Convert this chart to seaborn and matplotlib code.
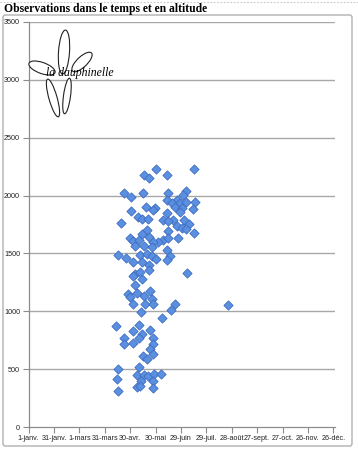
import matplotlib
matplotlib.use("Agg")
import matplotlib.pyplot as plt
import seaborn as sns
import pandas as pd
from matplotlib.patches import Ellipse, FancyBboxPatch
from matplotlib.lines import Line2D

# Day of year (0 = 1 janv.) and altitude (m) of each observation
days = [150, 195, 136, 142, 163, 113, 121, 135, 165, 186, 182, 163, 175, 197, 169,
        179, 186, 173, 181, 194, 139, 149, 147, 121, 163, 179, 129, 134, 141, 159,
        171, 165, 184, 190, 109, 175, 181, 186, 165, 195, 140, 134, 120, 142, 124,
        131, 159, 165, 177, 153, 147, 126, 136, 146, 163, 106, 115, 124, 132, 140,
        146, 151, 167, 163, 134, 142, 126, 132, 142, 187, 124, 134, 126, 118, 120,
        128, 143, 136, 146, 123, 138, 147, 173, 168, 236, 133, 158, 103, 131, 123,
        134, 144, 113, 147, 130, 123, 113, 147, 143, 147, 135, 140, 106, 131, 128,
        136, 141, 148, 156, 105, 133, 147, 128, 132, 147, 106]
altitudes = [2230, 2230, 2178, 2152, 2178, 2020, 1985, 2020, 2020, 2043, 2008, 1965, 1965, 1948, 1933,
             1933, 1948, 1905, 1894, 1885, 1905, 1890, 1877, 1865, 1847, 1856, 1819, 1799, 1799, 1790,
             1790, 1778, 1790, 1756, 1761, 1733, 1721, 1713, 1698, 1675, 1704, 1670, 1635, 1640, 1606,
             1612, 1618, 1635, 1635, 1597, 1597, 1560, 1560, 1554, 1532, 1483, 1459, 1425, 1483, 1497,
             1474, 1454, 1474, 1446, 1425, 1396, 1325, 1339, 1353, 1332, 1302, 1282, 1224, 1146, 1123,
             1158, 1175, 1129, 1109, 1060, 1066, 1060, 1066, 1015, 1058, 994, 942, 873, 885, 828,
             808, 836, 767, 773, 771, 728, 721, 721, 672, 635, 615, 584, 498, 517, 448,
             448, 444, 455, 459, 416, 401, 398, 347, 352, 340, 309]

tick_days = [0, 30, 60, 90, 120, 150, 180, 210, 240, 270, 300, 330, 360]
tick_labels = ["1-janv.", "31-janv.", "1-mars", "31-mars", "30-avr.", "30-mai", "29-juin",
               "29-juil.", "28-août", "27-sept.", "27-oct.", "26-nov.", "26-déc."]
y_ticks = [0, 500, 1000, 1500, 2000, 2500, 3000, 3500]

title = "Observations dans le temps et en altitude"
logo_text = "la dauphinelle"

df = pd.DataFrame({"jour": days, "altitude": altitudes})

sns.set_theme(style="white")
plt.rcParams["font.family"] = ["Liberation Sans", "DejaVu Sans"]

W, H = 358, 449
fig = plt.figure(figsize=(W / 100, H / 100), dpi=100)
fig.patch.set_facecolor("white")

# outer chart frame
frame = FancyBboxPatch((3 / W, 3 / H), 349 / W, 431 / H,
                       boxstyle="round,pad=0,rounding_size=0.006",
                       transform=fig.transFigure, facecolor="white",
                       edgecolor="#b0b0b0", linewidth=1.0, zorder=-10)
fig.patches.append(frame)
# dotted top line
fig.add_artist(Line2D([0.0, 1.0], [1 - 1.5 / H, 1 - 1.5 / H], transform=fig.transFigure,
                      color="#c8c8c8", linewidth=0.8, linestyle=(0, (1.5, 1.5)), zorder=-5))

ax = fig.add_axes([28.5 / W, 1 - 427 / H, (335 - 28.5) / W, (427 - 22) / H])
ax.set_facecolor("none")
ax.set_zorder(1)

sns.scatterplot(data=df, x="jour", y="altitude", marker="D", s=22,
                color="#5b8fe0", edgecolor="#3d6cc2", linewidth=0.6, ax=ax,
                zorder=3, legend=False)

ax.set_xlim(0, 362)
ax.set_ylim(0, 3500)
ax.set_xticks(tick_days)
ax.set_xticklabels(tick_labels, fontsize=5.2, color="#222222")
ax.set_yticks(y_ticks)
ax.set_yticklabels([str(v) for v in y_ticks], fontsize=5.2, color="#222222")
ax.set_xlabel("")
ax.set_ylabel("")

for v in y_ticks[1:]:
    ax.axhline(v, color="#a8a8a8", linewidth=1.0, zorder=1)

for side in ["top", "right"]:
    ax.spines[side].set_visible(False)
for side in ["left", "bottom"]:
    ax.spines[side].set_color("#8c8c8c")
    ax.spines[side].set_linewidth(0.9)
ax.tick_params(axis="both", which="both", direction="out", length=4, width=0.8,
               color="#8c8c8c", pad=2)
ax.tick_params(axis="x", bottom=True)
ax.tick_params(axis="y", left=True)
ax.grid(False)

# title
fig.text(4 / W, 1 - 12 / H, title, fontsize=8.4, fontweight="bold",
         family=["Liberation Serif", "DejaVu Serif"], color="black", va="baseline")

# logo: a simple flower drawn with petals, and its name
petals = [  # (cx, cy, width, height, angle) in pixel coords (y from top)
    (64, 52, 11, 44, -5),
    (82, 62, 9, 30, -55),
    (42, 68, 9, 34, 75),
    (53, 98, 8, 40, 20),
    (67, 96, 7, 36, -10),
]
for cx, cy, w, h, ang in petals:
    e = Ellipse((cx / W, 1 - cy / H), w / W, h / H, angle=ang,
                transform=fig.transFigure, facecolor="white", edgecolor="#222222",
                linewidth=0.8, zorder=5)
    fig.patches.append(e)
fig.text(46 / W, 1 - 76 / H, logo_text, fontsize=8.5, style="italic",
         family=["Liberation Serif", "DejaVu Serif"], color="black", zorder=6)

fig.savefig("out.png", dpi=100, facecolor="white")
